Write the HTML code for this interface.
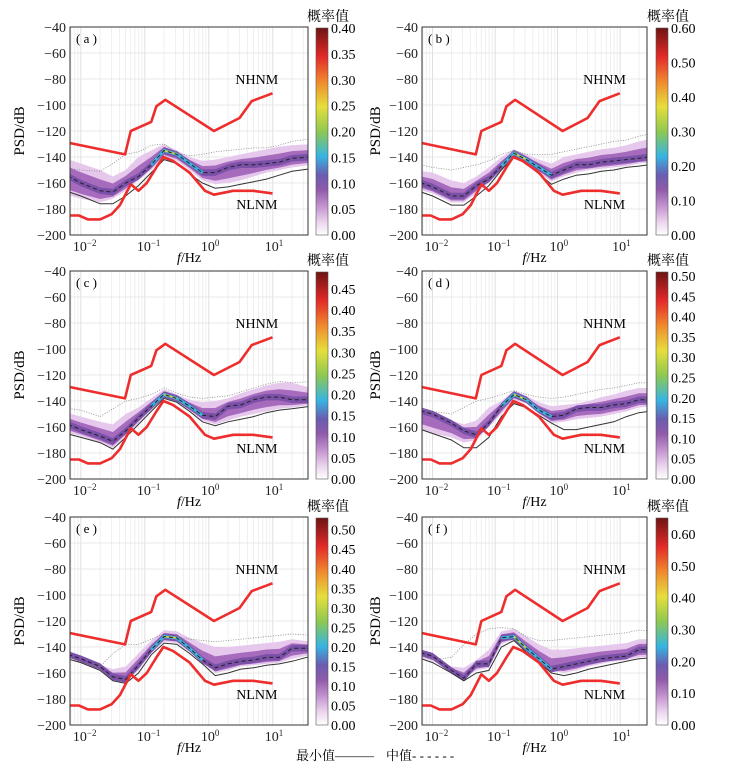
<!DOCTYPE html>
<html><head><meta charset="utf-8">
<style>
html,body{margin:0;padding:0;background:#fff;}
svg{display:block;font-family:"Liberation Serif","Noto Serif CJK SC",serif;}
</style></head>
<body>
<svg id="chart" width="743" height="769" viewBox="0 0 743 769" xmlns="http://www.w3.org/2000/svg">
<defs>
<linearGradient id="cmap" x1="0" y1="1" x2="0" y2="0">
<stop offset="0" stop-color="#ffffff"/>
<stop offset="0.06" stop-color="#ecd6ee"/>
<stop offset="0.14" stop-color="#c393cf"/>
<stop offset="0.22" stop-color="#8f5aaa"/>
<stop offset="0.29" stop-color="#6a5cb0"/>
<stop offset="0.38" stop-color="#36b5e2"/>
<stop offset="0.5" stop-color="#8ec850"/>
<stop offset="0.62" stop-color="#e6df3a"/>
<stop offset="0.74" stop-color="#f08a2e"/>
<stop offset="0.86" stop-color="#e42a28"/>
<stop offset="1" stop-color="#6e1414"/>
</linearGradient>
</defs>
<text x="296" y="760" font-size="13">最小值———</text>
<text x="386" y="760" font-size="13">中值- - - - - -</text>
</svg>
<script>
// shared frequency grid (log10 Hz)
const logF = [-2.3,-2,-1.7,-1.5,-1.3,-1.1,-0.9,-0.7,-0.5,-0.3,-0.1,0.1,0.3,0.5,0.7,0.9,1.1,1.3,1.6];
// Peterson noise models (log10 f, dB)
const nhnmX = [-2.3,-1.31,-1.22,-0.90,-0.82,-0.68,0.08,0.48,0.67,0.995];
const nhnmY = [-128,-138,-120,-113,-101,-96,-120,-110,-97,-91];
const nlnmX = [-2.3,-2.03,-1.89,-1.70,-1.52,-1.39,-1.22,-1.10,-0.97,-0.82,-0.71,-0.56,-0.30,-0.06,0.08,0.38,0.69,0.995];
const nlnmY = [-185,-185,-188,-188,-184,-177,-161,-166,-160,-148,-140,-143,-152,-166,-169,-166,-166,-168];
// panel series
const medA=[-152,-160,-166,-167,-160,-155,-146,-135,-138,-145,-152,-152,-148,-146,-146,-145,-144,-141,-140];
const minA=[-165,-170,-176,-176,-170,-162,-152,-142,-145,-153,-160,-164,-163,-161,-159,-157,-154,-151,-149];
const maxA=[-148,-150,-151,-145,-138,-136,-131,-130,-137,-139,-138,-136,-135,-134,-133,-133,-131,-128,-126];
const hiA=[-140,-145,-150,-155,-150,-140,-135,-130,-135,-140,-143,-142,-140,-138,-136,-134,-132,-131,-130];
const loA=[-168,-172,-175,-172,-166,-158,-150,-140,-143,-150,-158,-161,-160,-158,-155,-152,-150,-148,-146];
const medB=[-158,-163,-170,-170,-162,-157,-147,-137,-142,-148,-154,-150,-146,-146,-144,-143,-142,-141,-139];
const minB=[-165,-170,-177,-177,-170,-162,-150,-140,-145,-153,-161,-157,-154,-153,-151,-150,-148,-147,-145];
const maxB=[-145,-148,-150,-148,-146,-143,-138,-135,-138,-138,-138,-136,-134,-132,-130,-128,-127,-124,-121];
const hiB=[-150,-152,-158,-160,-155,-148,-140,-134,-138,-142,-145,-140,-138,-136,-134,-133,-131,-128,-125];
const loB=[-164,-168,-175,-175,-168,-160,-150,-139,-144,-152,-159,-155,-152,-150,-149,-148,-147,-145,-144];
const medC=[-156,-162,-167,-171,-163,-153,-144,-135,-138,-144,-151,-152,-144,-143,-139,-137,-137,-139,-139];
const minC=[-164,-168,-172,-177,-168,-158,-148,-138,-141,-148,-156,-159,-156,-154,-152,-149,-147,-146,-144];
const maxC=[-145,-147,-152,-146,-140,-138,-135,-130,-134,-137,-138,-137,-136,-133,-130,-127,-125,-126,-125];
const hiC=[-148,-152,-156,-158,-150,-145,-138,-131,-135,-139,-141,-140,-138,-134,-131,-128,-126,-126,-130];
const loC=[-163,-167,-172,-176,-167,-157,-147,-138,-141,-148,-155,-158,-155,-152,-150,-148,-146,-145,-143];
const medD=[-146,-150,-157,-163,-166,-157,-144,-135,-139,-147,-152,-151,-146,-145,-145,-143,-142,-139,-139];
const minD=[-160,-165,-170,-176,-176,-168,-152,-142,-145,-151,-157,-162,-162,-160,-158,-156,-152,-149,-147];
const maxD=[-145,-148,-150,-145,-140,-138,-135,-132,-135,-137,-138,-137,-135,-133,-131,-130,-128,-126,-126];
const hiD=[-145,-150,-155,-158,-155,-145,-140,-132,-136,-141,-144,-143,-142,-140,-137,-135,-132,-130,-130];
const loD=[-160,-165,-168,-172,-170,-160,-150,-139,-142,-150,-157,-156,-154,-153,-152,-150,-148,-145,-144];
const medE=[-144,-149,-155,-163,-165,-154,-142,-132,-133,-141,-150,-156,-153,-151,-150,-148,-148,-141,-141];
const minE=[-148,-152,-158,-166,-168,-160,-146,-137,-138,-145,-153,-162,-160,-157,-156,-154,-153,-151,-147];
const maxE=[-145,-152,-155,-145,-138,-138,-134,-130,-132,-134,-135,-136,-135,-134,-133,-132,-131,-130,-131];
const hiE=[-143,-148,-154,-157,-155,-145,-135,-127,-128,-133,-137,-140,-140,-139,-138,-137,-136,-134,-136];
const loE=[-146,-151,-157,-165,-167,-158,-145,-136,-137,-144,-152,-160,-158,-155,-154,-153,-152,-149,-146];
const medF=[-143,-147,-158,-164,-153,-153,-133,-132,-141,-149,-157,-155,-153,-151,-149,-148,-147,-142,-142];
const minF=[-147,-152,-160,-166,-160,-158,-140,-135,-144,-152,-160,-162,-160,-157,-155,-153,-151,-149,-148];
const maxF=[-145,-150,-148,-138,-130,-126,-125,-126,-132,-135,-135,-134,-133,-132,-131,-130,-129,-127,-128];
const hiF=[-142,-147,-155,-156,-150,-142,-128,-126,-132,-138,-142,-142,-141,-140,-139,-138,-137,-134,-134];
const loF=[-146,-151,-159,-165,-158,-156,-138,-134,-143,-151,-158,-160,-158,-155,-153,-151,-150,-148,-147];
const panelLabels=['a','b','c','d','e','f'];
const cbarMax=[0.40,0.60,0.49,0.51,0.53,0.65];
const cbarStep=[0.05,0.10,0.05,0.05,0.05,0.10];
const yTicks=[-40,-60,-80,-100,-120,-140,-160,-180,-200];
const xTickExp=[-2,-1,0,1];

const NS='http://www.w3.org/2000/svg';
const svg=document.getElementById('chart');
function mk(tag,attrs,parent){const e=document.createElementNS(NS,tag);for(const k in attrs)e.setAttribute(k,attrs[k]);(parent||svg).appendChild(e);return e;}

const series=[[medA,minA,maxA,hiA,loA],[medB,minB,maxB,hiB,loB],[medC,minC,maxC,hiC,loC],[medD,minD,maxD,hiD,loD],[medE,minE,maxE,hiE,loE],[medF,minF,maxF,hiF,loF]];
const cols=[{x0:70,x1:308,lmin:-2.17,lmax:1.55,cb:316,ylab:24},{x0:422,x1:647,lmin:-2.17,lmax:1.43,cb:656,ylab:380}];
const rows=[[27,235],[271,479],[517,725]];

for(let p=0;p<6;p++){
  const c=cols[p%2], r=rows[Math.floor(p/2)];
  const [y0,y1]=r;
  const sx=l=>c.x0+(l-c.lmin)/(c.lmax-c.lmin)*(c.x1-c.x0);
  const sy=d=>y0+(-40-d)/160*(y1-y0);
  const g=mk('g',{});
  
  
  const cid='clip'+p;
  const cp=mk('clipPath',{id:cid},g);
  mk('rect',{x:c.x0,y:y0,width:c.x1-c.x0,height:y1-y0},cp);
  for(let e=-3;e<=1;e++){for(let m=1;m<10;m++){const l=e+Math.log10(m);if(l<c.lmin||l>c.lmax)continue;
    const gl=mk('line',{x1:sx(l),x2:sx(l),y1:y0,y2:y1,stroke:m===1?'#d8d8d8':'#ececec','stroke-width':0.8},g);
    
    }}
  yTicks.forEach(t=>{
    const gl=mk('line',{x1:c.x0,x2:c.x1,y1:sy(t),y2:sy(t),stroke:'#e2e2e2','stroke-width':0.8},g);
    
    
    const tl=mk('text',{x:c.x0-4,y:sy(t)+5,'text-anchor':'end','font-size':14,fill:'#222'},g);tl.textContent=String(t).replace('-','−');
    
    
  });
  xTickExp.forEach(e=>{if(e<c.lmin||e>c.lmax)return;
    const tl=mk('text',{x:sx(e)-8,y:y1+16,'text-anchor':'start','font-size':14,fill:'#222'},g);
    tl.innerHTML='10<tspan dy="-5" font-size="9">'+(e<0?'−'+(-e):e)+'</tspan>';
    
    
  });
  const [med,mn,mx,hi,lo]=series[p];
  const pts=(a)=>a.map((v,i)=>sx(logF[i])+','+sy(v));
  const band=(up,dn)=>pts(up).concat(pts(dn).reverse()).join(' ');
  const dg=mk('g',{'clip-path':'url(#'+cid+')'},g);
  const b1=mk('polygon',{points:band(hi,lo),fill:'#e6c8ec'},dg);
  
  
  const midU=hi.map((v,i)=>med[i]+(v-med[i])*0.55), midD=lo.map((v,i)=>med[i]+(v-med[i])*0.7);
  const b2=mk('polygon',{points:band(midU,midD),fill:'#a66bbd'},dg);
  
  
  const b3=mk('polygon',{points:band(med.map(v=>v+2.5),med.map(v=>v-2.5)),fill:'#7a50a8'},dg);
  
  
  const pk=mk('polyline',{points:pts(med).slice(6,11).join(' '),fill:'none',stroke:'#3ab4dc','stroke-width':3},dg);
  
  
  const pk2=mk('polyline',{points:pts(med).slice(7,9).join(' '),fill:'none',stroke:'#d8d040','stroke-width':1.5},dg);
  
  
  const lmax=mk('polyline',{points:pts(mx).join(' '),fill:'none',stroke:'#888','stroke-width':0.8,'stroke-dasharray':'1,1.5'},dg);
  
  
  const lmin=mk('polyline',{points:pts(mn).join(' '),fill:'none',stroke:'#333','stroke-width':1},dg);
  
  
  const lmed=mk('polyline',{points:pts(med).join(' '),fill:'none',stroke:'#222','stroke-width':1,'stroke-dasharray':'4,3'},dg);
  
  
  const nh=mk('polyline',{points:nhnmX.map((l,i)=>sx(l)+','+sy(nhnmY[i])).join(' '),fill:'none',stroke:'#ee2d2d','stroke-width':2.6,'stroke-linejoin':'round'},dg);
  
  
  const nl=mk('polyline',{points:nlnmX.map((l,i)=>sx(l)+','+sy(nlnmY[i])).join(' '),fill:'none',stroke:'#ee2d2d','stroke-width':2.6,'stroke-linejoin':'round'},dg);
  
  
  const fr=mk('rect',{x:c.x0,y:y0,width:c.x1-c.x0,height:y1-y0,fill:'none',stroke:'#333','stroke-width':1},g);
  
  
  const t1=mk('text',{x:sx(0.75),y:sy(-84),'text-anchor':'middle','font-size':14},g);t1.textContent='NHNM';
  
  
  const t2=mk('text',{x:sx(0.75),y:sy(-180),'text-anchor':'middle','font-size':14},g);t2.textContent='NLNM';
  
  
  const pl=mk('text',{x:c.x0+6,y:y0+16,'font-size':13},g);pl.textContent='( '+panelLabels[p]+' )';
  
  
  const yl=mk('text',{x:c.ylab,y:(y0+y1)/2,'text-anchor':'middle','font-size':15,transform:'rotate(-90 '+c.ylab+' '+(y0+y1)/2+')'},g);yl.textContent='PSD/dB';
  
  
  const xl=mk('text',{x:(c.x0+c.x1)/2,y:y1+27,'text-anchor':'middle','font-size':14},g);xl.innerHTML='<tspan font-style="italic">f</tspan>/Hz';
  
  
  const cbTop=y0+1, cbBot=y1;
  const cb=mk('rect',{x:c.cb,y:cbTop,width:12,height:cbBot-cbTop,fill:'url(#cmap)',stroke:'#555','stroke-width':0.6},g);
  
  
  const ct=mk('text',{x:c.cb+12,y:y0-6,'text-anchor':'middle','font-size':14},g);ct.textContent='概率值';
  
  
  for(let v=0;v<=cbarMax[p]+1e-9;v+=cbarStep[p]){
    const yy=cbBot-(v/cbarMax[p])*(cbBot-cbTop);
    const tl=mk('text',{x:c.cb+15,y:yy+5,'font-size':14},g);tl.textContent=v.toFixed(2);
    
    
  }
}
</script>
</body></html>
